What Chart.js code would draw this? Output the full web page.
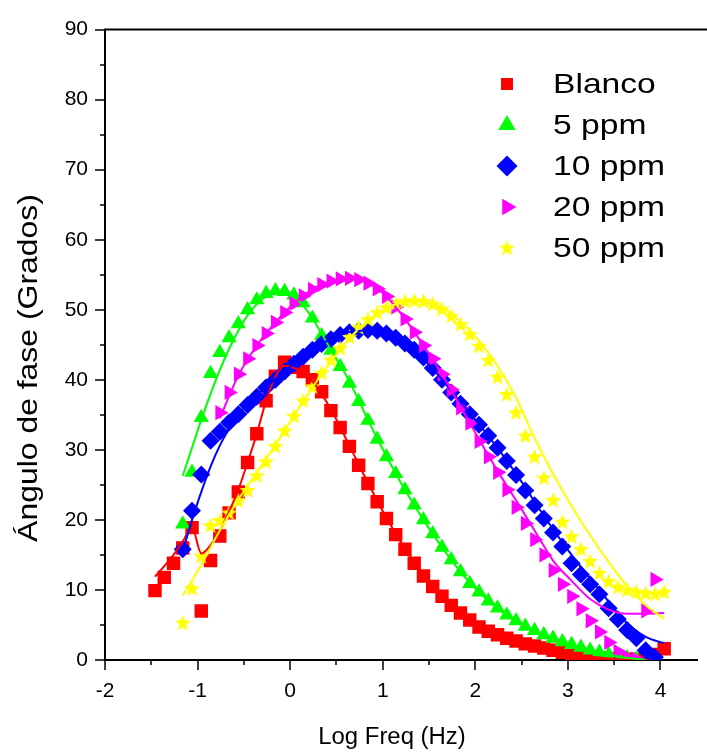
<!DOCTYPE html>
<html>
<head>
<meta charset="utf-8">
<script src="https://cdn.jsdelivr.net/npm/chart.js@4.4.1/dist/chart.umd.min.js"></script>
<style>
  html, body { margin: 0; padding: 0; background: #fff; }
</style>
</head>
<body>
<canvas id="chart" width="707" height="753"></canvas>
<script>
// log10 of frequency (Hz) for every measured point
const logFreq = [-1.46, -1.36, -1.26, -1.16, -1.06, -0.96, -0.86, -0.76, -0.66, -0.56,
  -0.46, -0.36, -0.26, -0.16, -0.06, 0.04, 0.14, 0.24, 0.34, 0.44,
  0.54, 0.64, 0.74, 0.84, 0.94, 1.04, 1.14, 1.24, 1.34, 1.44,
  1.54, 1.64, 1.74, 1.84, 1.94, 2.04, 2.14, 2.24, 2.34, 2.44,
  2.54, 2.64, 2.74, 2.84, 2.94, 3.04, 3.14, 3.24, 3.34, 3.44,
  3.54, 3.64, 3.74, 3.84, 3.94, 4.04];

// phase angle (degrees), measured points
const blanco = [9.9, 11.8, 13.8, 16.0, 18.9, 7.0, 14.2, 17.7, 21.0, 24.0,
  28.2, 32.3, 37.0, 40.5, 42.5, 41.8, 41.2, 40.0, 38.3, 35.6,
  33.2, 30.5, 27.8, 25.2, 22.6, 20.2, 17.9, 15.8, 13.8, 12.0,
  10.5, 9.1, 7.8, 6.7, 5.7, 4.7, 4.1, 3.6, 3.1, 2.7,
  2.3, 2.0, 1.7, 1.4, 1.1, 0.9, 0.7, 0.5, 0.3, 0.2,
  0.1, 0.1, 0.1, 0.3, 0.8, 1.6];
const ppm5 = [null, null, null, 19.4, 26.8, 34.6, 40.9, 43.9, 46.0, 48.0,
  50.0, 51.4, 52.3, 52.7, 52.6, 52.1, 51.0, 48.8, 46.3, 44.2,
  41.9, 39.5, 36.9, 34.2, 31.5, 29.0, 26.6, 24.3, 22.1, 20.0,
  18.0, 16.1, 14.3, 12.6, 10.9, 9.7, 8.4, 7.4, 6.4, 5.6,
  4.8, 4.2, 3.6, 3.1, 2.6, 2.2, 1.8, 1.4, 1.1, 0.8,
  0.5, 0.3, 0.1, null, null, null];
const ppm10 = [null, null, null, 15.8, 21.3, 26.5, 31.3, 32.6, 33.9, 35.1,
  36.4, 37.6, 38.9, 40.0, 41.2, 42.3, 43.3, 44.3, 45.1, 45.8,
  46.4, 46.8, 47.0, 47.1, 47.0, 46.6, 46.0, 45.2, 44.3, 43.2,
  41.7, 40.0, 38.2, 36.6, 35.1, 33.6, 32.0, 30.3, 28.4, 26.4,
  24.2, 22.1, 20.2, 18.2, 16.2, 13.8, 12.2, 10.8, 9.4, 7.4,
  5.8, 4.3, 3.1, 1.4, 0.4, null];
const ppm20 = [null, null, null, null, null, null, null, 35.3, 38.2, 40.8,
  43.0, 44.9, 46.6, 48.2, 49.6, 50.9, 52.0, 52.9, 53.6, 54.1,
  54.4, 54.5, 54.3, 53.8, 53.0, 51.9, 50.4, 48.7, 46.8, 44.9,
  43.0, 40.8, 38.6, 36.0, 33.8, 31.2, 29.0, 26.8, 24.3, 21.8,
  19.5, 17.2, 15.0, 12.8, 10.8, 9.1, 7.3, 5.6, 4.0, 2.5,
  1.2, 0.4, 0.1, 7.0, 11.5, null];
const ppm50 = [null, null, null, 5.3, 10.2, 14.8, 19.2, 19.9, 21.0, 22.7,
  24.2, 26.3, 28.3, 30.5, 32.7, 34.8, 37.0, 39.0, 41.0, 42.8,
  44.5, 46.1, 47.5, 48.6, 49.6, 50.3, 50.9, 51.2, 51.3, 51.2,
  50.8, 50.1, 49.1, 47.9, 46.5, 44.8, 42.8, 40.4, 37.9, 35.3,
  32.0, 29.0, 26.0, 22.8, 19.7, 17.6, 15.8, 14.1, 12.4, 11.2,
  10.4, 10.0, 9.7, 9.5, 9.4, 9.7];

// fitted curves
const blancoFitX = [-1.46, -1.36, -1.26, -1.16, -1.06, -0.96, -0.86, -0.76, -0.66, -0.56, -0.46, -0.36, -0.26, -0.16, -0.06, 0.04, 0.24, 0.44, 0.64, 0.84, 1.04, 1.24, 1.44, 1.64, 1.84, 2.04, 2.34, 2.64, 2.94, 3.24, 3.54, 3.84];
const blancoFitY = [11.9, 13.4, 15.0, 16.9, 18.9, 15.2, 16.4, 18.4, 21.2, 24.3, 28.2, 32.3, 37.0, 40.4, 42.0, 41.7, 39.8, 35.8, 30.6, 25.3, 20.3, 15.9, 12.1, 9.1, 6.7, 4.8, 3.1, 2.0, 1.1, 0.5, 0.1, 0.0];
const ppm5FitX = [-1.16, -1.06, -0.96, -0.86, -0.76, -0.66, -0.56, -0.46, -0.36, -0.26, -0.16, -0.06, 0.04, 0.14, 0.24, 0.44, 0.64, 0.84, 1.04, 1.24, 1.44, 1.64, 1.84, 2.04, 2.34, 2.64, 2.94, 3.24, 3.54, 3.84];
const ppm5FitY = [26.3, 30.3, 34.3, 38.0, 41.4, 44.4, 47.0, 49.2, 50.8, 51.9, 52.4, 52.4, 51.8, 50.6, 48.8, 44.3, 39.8, 34.3, 29.1, 24.3, 20.0, 16.1, 12.6, 9.7, 6.4, 4.2, 2.6, 1.4, 0.5, 0.0];
const ppm10FitX = [-1.16, -1.06, -0.96, -0.86, -0.76, -0.66, -0.56, -0.46, -0.26, -0.06, 0.14, 0.34, 0.54, 0.74, 0.94, 1.14, 1.34, 1.54, 1.84, 2.14, 2.44, 2.74, 3.04, 3.34, 3.64, 3.84, 4.04];
const ppm10FitY = [15.5, 20.0, 24.0, 27.6, 30.6, 33.0, 35.0, 36.6, 39.0, 41.2, 43.3, 45.1, 46.4, 47.0, 47.0, 46.0, 44.3, 41.6, 36.8, 32.0, 26.6, 20.6, 15.0, 10.0, 5.2, 3.3, 2.4];
const ppm20FitX = [-0.76, -0.56, -0.36, -0.16, 0.04, 0.24, 0.44, 0.64, 0.84, 1.04, 1.24, 1.44, 1.64, 1.84, 2.04, 2.24, 2.44, 2.64, 2.84, 3.04, 3.24, 3.44, 3.64, 3.84, 4.04];
const ppm20FitY = [34.5, 40.6, 44.9, 48.2, 50.9, 52.9, 54.1, 54.5, 53.8, 51.9, 48.7, 44.9, 40.8, 36.2, 31.5, 27.0, 22.8, 18.5, 14.2, 11.3, 8.7, 7.2, 6.6, 6.6, 6.7];
const ppm50FitX = [-1.16, -0.96, -0.76, -0.56, -0.36, -0.16, 0.04, 0.24, 0.44, 0.64, 0.84, 1.04, 1.24, 1.44, 1.64, 1.84, 2.04, 2.24, 2.44, 2.64, 2.84, 3.04, 3.24, 3.44, 3.64, 3.84, 4.04];
const ppm50FitY = [9.2, 13.6, 18.5, 22.9, 26.8, 30.7, 34.8, 38.9, 42.6, 45.9, 48.5, 50.2, 51.1, 51.1, 50.3, 48.3, 45.6, 42.0, 37.4, 31.7, 26.6, 22.0, 17.8, 14.0, 10.5, 7.8, 5.9];

const seriesLabels = ['Blanco', '5 ppm', '10 ppm', '20 ppm', '50 ppm'];
const xTickValues = [-2, -1, 0, 1, 2, 3, 4];
const yTickValues = [0, 10, 20, 30, 40, 50, 60, 70, 80, 90];

const colors = ['#ff0000', '#00ff00', '#0000ff', '#ff00ff', '#ffff00'];
const FONT = '"Liberation Sans", Arial, sans-serif';

function toPoints(xs, ys) {
  return xs.map((x, i) => ({ x: x, y: ys[i] })).filter(p => p.y !== null);
}

function makeStar(color, r) {
  const c = document.createElement('canvas');
  const s = Math.ceil(r * 2) + 2;
  c.width = s;
  c.height = s;
  const ctx = c.getContext('2d');
  ctx.beginPath();
  for (let i = 0; i < 10; i++) {
    const rad = i % 2 === 0 ? r : r * 0.42;
    const a = -Math.PI / 2 + i * Math.PI / 5;
    const px = s / 2 + rad * Math.cos(a);
    const py = s / 2 + rad * Math.sin(a) + 0.5;
    if (i === 0) ctx.moveTo(px, py); else ctx.lineTo(px, py);
  }
  ctx.closePath();
  ctx.fillStyle = color;
  ctx.fill();
  return c;
}

const star = makeStar(colors[4], 8.5);

const markers = [
  { style: 'rect', radius: 9.5, rotation: 0, legendRadius: 8.5 },
  { style: 'triangle', radius: 8.8, rotation: 0, legendRadius: 10 },
  { style: 'rectRot', radius: 9, rotation: 0, legendRadius: 10.5 },
  { style: 'triangle', radius: 8.8, rotation: 90, legendRadius: 9.5 },
  { style: star, radius: 8.5, rotation: 0, legendRadius: 8.5 }
];

const pointSeries = [blanco, ppm5, ppm10, ppm20, ppm50];
const fits = [
  [blancoFitX, blancoFitY],
  [ppm5FitX, ppm5FitY],
  [ppm10FitX, ppm10FitY],
  [ppm20FitX, ppm20FitY],
  [ppm50FitX, ppm50FitY]
];

const datasets = [];
pointSeries.forEach((vals, i) => {
  datasets.push({
    label: seriesLabels[i],
    data: toPoints(logFreq, vals),
    showLine: false,
    pointStyle: markers[i].style,
    pointRadius: markers[i].radius,
    pointRotation: markers[i].rotation,
    pointBackgroundColor: colors[i],
    pointBorderColor: colors[i],
    pointBorderWidth: 0,
    pointHoverRadius: markers[i].radius,
    order: 10 - i,
    clip: { left: 20, right: 20, top: 20, bottom: 0 }
  });
});
fits.forEach((f, i) => {
  datasets.push({
    label: seriesLabels[i] + ' fit',
    data: toPoints(f[0], f[1]),
    showLine: true,
    borderColor: colors[i],
    borderWidth: 2,
    pointRadius: 0,
    pointHoverRadius: 0,
    cubicInterpolationMode: 'monotone',
    order: 5 - i,
    clip: { left: 20, right: 20, top: 20, bottom: 0 }
  });
});

// draw text stretched horizontally (the original uses a wide font rendering)
function wideText(ctx, text, x, y, stretch) {
  ctx.save();
  ctx.translate(x, y);
  ctx.scale(stretch, 1);
  ctx.fillText(text, 0, 0);
  ctx.restore();
}

// top frame line, outward ticks (major + minor), axis titles and legend
const framePlugin = {
  id: 'frame',
  afterDraw(chart) {
    const ctx = chart.ctx;
    const xs = chart.scales.x;
    const ys = chart.scales.y;
    const area = chart.chartArea;
    ctx.save();
    ctx.strokeStyle = '#000';
    ctx.lineWidth = 2;
    ctx.beginPath();
    ctx.moveTo(area.left - 1, area.top);
    ctx.lineTo(chart.width, area.top);
    ctx.stroke();

    ctx.lineWidth = 1.5;
    ctx.beginPath();
    yTickValues.forEach(v => {
      const py = Math.round(ys.getPixelForValue(v));
      ctx.moveTo(area.left - 10, py);
      ctx.lineTo(area.left, py);
      if (v < 90) {
        const pm = Math.round(ys.getPixelForValue(v + 5));
        ctx.moveTo(area.left - 5, pm);
        ctx.lineTo(area.left, pm);
      }
    });
    xTickValues.forEach(v => {
      const px = Math.round(xs.getPixelForValue(v));
      ctx.moveTo(px, area.bottom);
      ctx.lineTo(px, area.bottom + 10);
      if (v < 4) {
        const pm = Math.round(xs.getPixelForValue(v + 0.5));
        ctx.moveTo(pm, area.bottom);
        ctx.lineTo(pm, area.bottom + 5);
      }
    });
    ctx.stroke();

    // x axis title
    ctx.fillStyle = '#000';
    ctx.textAlign = 'center';
    ctx.textBaseline = 'middle';
    ctx.font = '23px ' + FONT;
    wideText(ctx, 'Log Freq (Hz)', 392, 738, 1.04);

    // y axis title
    ctx.font = '28px ' + FONT;
    ctx.translate(29, 368);
    ctx.rotate(-Math.PI / 2);
    wideText(ctx, 'Ángulo de fase (Grados)', 0, 0, 1.14);
    ctx.restore();

    // legend
    ctx.save();
    seriesLabels.forEach((label, i) => {
      const cy = 84 + i * 41;
      ctx.fillStyle = colors[i];
      ctx.strokeStyle = colors[i];
      Chart.helpers.drawPoint(ctx, {
        pointStyle: markers[i].style,
        radius: markers[i].legendRadius,
        rotation: markers[i].rotation,
        borderWidth: 0
      }, 507, cy);
      ctx.fillStyle = '#000';
      ctx.font = '28px ' + FONT;
      ctx.textAlign = 'left';
      ctx.textBaseline = 'middle';
      wideText(ctx, label, 553, cy + 1, 1.2);
    });
    ctx.restore();
  }
};

new Chart(document.getElementById('chart'), {
  type: 'scatter',
  data: { datasets: datasets },
  plugins: [framePlugin],
  options: {
    responsive: false,
    animation: false,
    layout: { padding: { top: 18, right: 0, left: 0, bottom: 0 } },
    plugins: {
      legend: { display: false },
      tooltip: { enabled: false }
    },
    scales: {
      x: {
        type: 'linear',
        min: -2,
        max: 4.4,
        afterFit(scale) { scale.height = 93; },
        afterBuildTicks(scale) { scale.ticks = xTickValues.map(v => ({ value: v })); },
        grid: { display: false, drawTicks: false },
        border: { display: true, color: '#000', width: 2 },
        ticks: {
          padding: 19,
          color: '#000',
          font: { family: FONT, size: 21 },
          maxRotation: 0
        }
      },
      y: {
        type: 'linear',
        min: 0,
        max: 90,
        afterFit(scale) { scale.width = 105; },
        afterBuildTicks(scale) { scale.ticks = yTickValues.map(v => ({ value: v })); },
        grid: { display: false, drawTicks: false },
        border: { display: true, color: '#000', width: 2 },
        ticks: {
          padding: 17,
          color: '#000',
          font: { family: FONT, size: 21 }
        }
      }
    }
  }
});
</script>
</body>
</html>
